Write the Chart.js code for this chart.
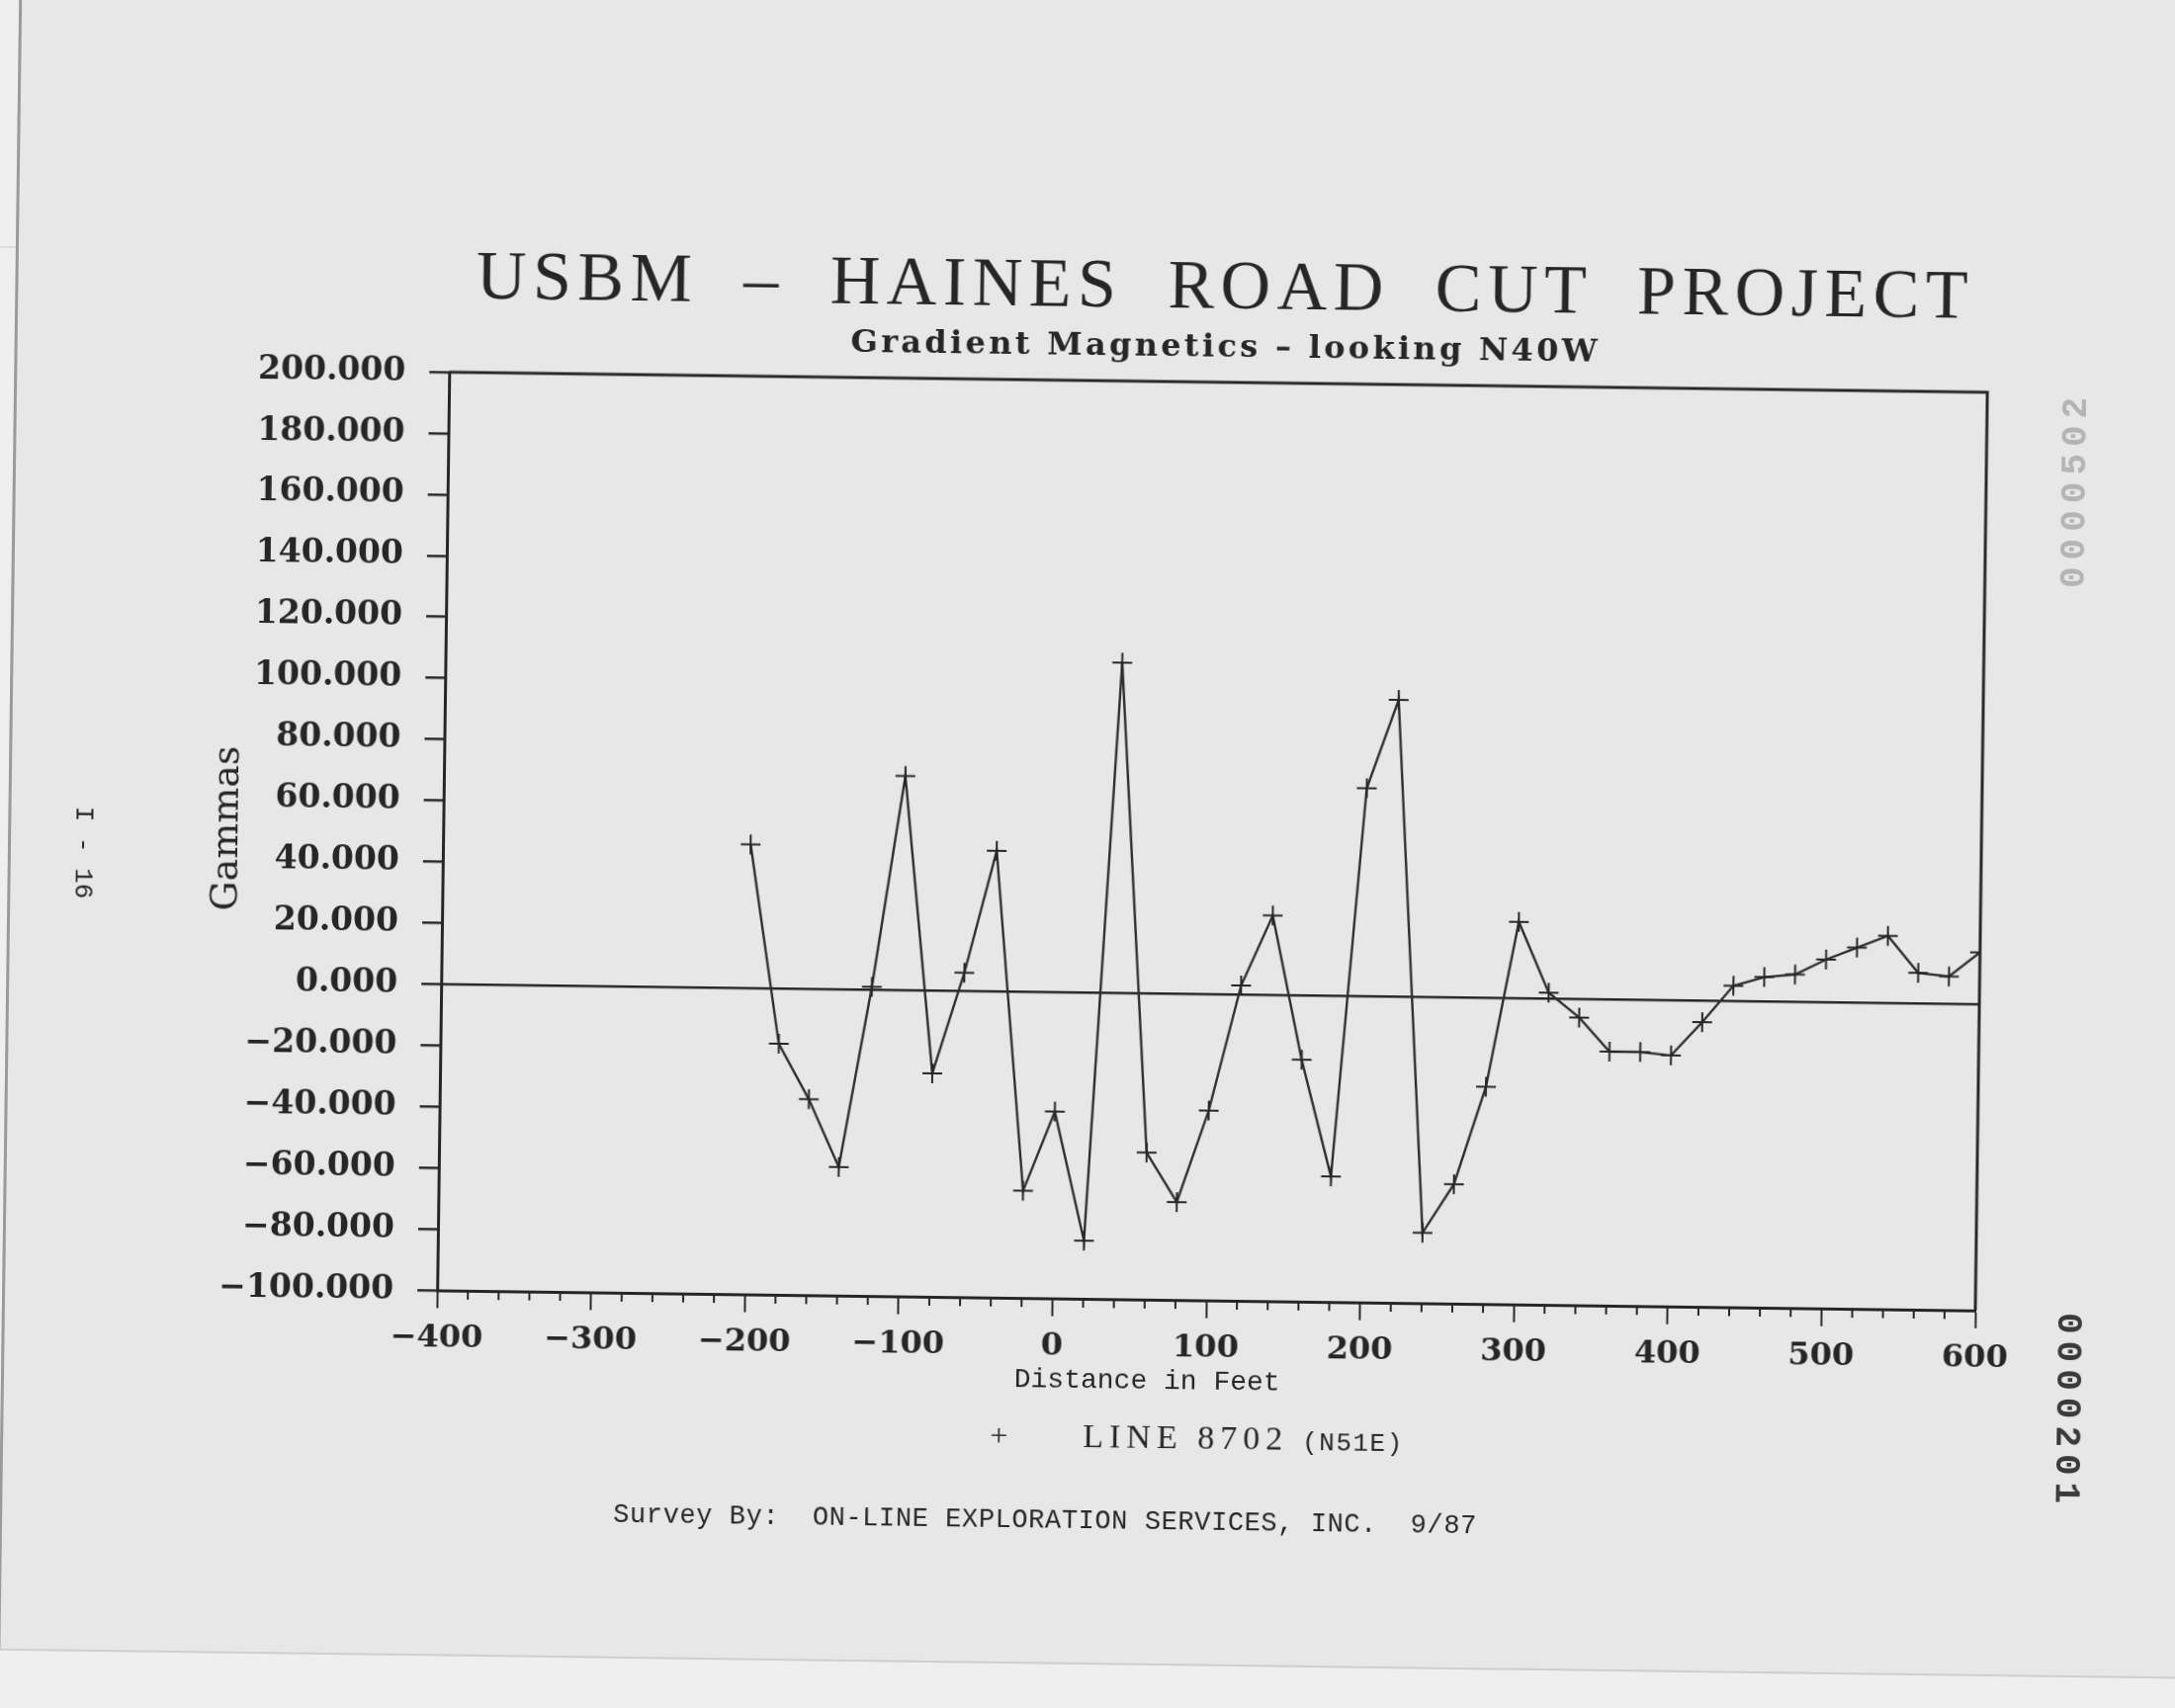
<!DOCTYPE html>
<html>
<head>
<meta charset="utf-8">
<title>USBM - Haines Road Cut Project</title>
<script src="https://cdn.jsdelivr.net/npm/chart.js@4.4.1/dist/chart.umd.min.js"></script>
<style>
  html, body { margin: 0; padding: 0; width: 2200px; height: 1728px; overflow: hidden; background: #efefef; }
  #scanline { position: absolute; left: 0; top: 249px; width: 2200px; height: 2px; background: #dcdcdc; }
  #page { position: absolute; left: 0; top: 0; width: 2200px; height: 1728px;
          transform: rotate(0.75deg); transform-origin: 1100px 864px; }
  #paper { position: absolute; left: 8px; top: -60px; width: 2300px; height: 1742px;
           background: #e7e7e7; border-left: 3px solid #9a9a9a; border-bottom: 2px solid #cfcfcf; }
  #chart { position: absolute; left: 0; top: 0; }
  .txt { position: absolute; color: #262626; white-space: pre; }
  #title { left: 232px; width: 2000px; top: 252px; text-align: center;
           font: 70px/70px "Liberation Serif", serif; letter-spacing: 6.5px; word-spacing: 22px; }
  #subtitle { left: 433px; width: 1600px; top: 332px; text-align: center;
              font: bold 32px/32px "DejaVu Serif", serif; letter-spacing: 3.3px; }
  #legend { left: 1009px; top: 1436px; font: 34px/34px "Liberation Serif", serif; }
  #legend .plus { display: inline-block; width: 18px; font-size: 32px; }
  #legend .name { margin-left: 76px; letter-spacing: 6px; }
  #legend .dir { margin-left: 14px; font: 26px "Liberation Mono", monospace; letter-spacing: 1.5px; }
  #footer { left: 629px; top: 1526px; font: 27px/27px "Liberation Mono", monospace; letter-spacing: 0.6px; }
  #pageno { left: 42px; top: 858px; font: 26px/26px "Liberation Mono", monospace;
            transform: rotate(90deg); transform-origin: 42px 13px; }
  #stamp1 { left: 1995px; top: 462px; width: 200px; text-align: center; color: #b4b4b4;
            font: bold 36px/40px "Liberation Mono", monospace; letter-spacing: 7px; transform: rotate(-90deg); }
  #stamp2 { left: 1997px; top: 1395px; width: 200px; text-align: center; color: #3a3a3a;
            font: bold 36px/40px "Liberation Mono", monospace; letter-spacing: 7px; transform: rotate(90deg); }
</style>
</head>
<body>
<div id="scanline"></div>
<div id="page">
  <div id="paper"></div>
  <canvas id="chart" width="2200" height="1728"></canvas>
  <div class="txt" id="title">USBM – HAINES ROAD CUT PROJECT</div>
  <div class="txt" id="subtitle">Gradient Magnetics – looking N40W</div>
  <div class="txt" id="legend"><span class="plus">+</span><span class="name">LINE 8702</span><span class="dir">(N51E)</span></div>
  <div class="txt" id="footer">Survey By:  ON-LINE EXPLORATION SERVICES, INC.  9/87</div>
  <div class="txt" id="pageno">I - 16</div>
  <div class="txt" id="stamp1">0000502</div>
  <div class="txt" id="stamp2">0000201</div>
</div>
<script>
// survey stations (feet) and gradient readings (gammas)
const stations = [-200, -180, -160, -140, -120, -100, -80, -60, -40, -20, 0, 20, 40, 60, 80, 100,
                  120, 140, 160, 180, 200, 220, 240, 260, 280, 300, 320, 340, 360, 380, 400, 420,
                  440, 460, 480, 500, 520, 540, 560, 580, 600];
const gammas = [47, -18, -36, -58, 1, 70, -27, 6, 46, -65, -39, -81, 108, -52, -68, -38,
                3, 26, -21, -59, 68, 97, -77, -61, -29, 25, 2, -6, -17, -17, -18, -7,
                5, 8, 9, 14, 18, 22, 10, 9, 17];
const xRange = [-400, 600];
const yRange = [-100, 200];
const seriesName = 'LINE 8702 (N51E)';

const ink = '#262626';
const minus = s => String(s).replace('-', '\u2212');

// top/right frame and short ticks every 20 ft
const framePlugin = {
  id: 'frame',
  afterDraw(chart) {
    const { ctx, chartArea: a, scales: { x } } = chart;
    ctx.save();
    ctx.strokeStyle = ink;
    ctx.lineWidth = 3;
    ctx.beginPath();
    ctx.moveTo(a.left, a.top);
    ctx.lineTo(a.right, a.top);
    ctx.lineTo(a.right, a.bottom);
    ctx.stroke();
    ctx.lineWidth = 2;
    ctx.beginPath();
    x.ticks.forEach(t => {
      if (t.value % 100 === 0) return;
      const px = x.getPixelForValue(t.value);
      ctx.moveTo(px, a.bottom);
      ctx.lineTo(px, a.bottom + 9);
    });
    ctx.stroke();
    ctx.restore();
  }
};

new Chart(document.getElementById('chart'), {
  type: 'line',
  data: {
    datasets: [{
      label: seriesName,
      data: stations.map((s, i) => ({ x: s, y: gammas[i] })),
      borderColor: '#2e2e2e',
      borderWidth: 2.4,
      pointStyle: 'cross',
      pointRadius: 10,
      pointBorderWidth: 2,
      pointBorderColor: '#262626',
      tension: 0,
      fill: false
    }]
  },
  options: {
    responsive: false,
    devicePixelRatio: 1,
    animation: false,
    layout: { padding: { left: 207, top: 385, right: 196, bottom: 315 } },
    plugins: { legend: { display: false }, tooltip: { enabled: false } },
    scales: {
      x: {
        type: 'linear',
        min: xRange[0], max: xRange[1],
        afterFit: s => { s.height = 99; },
        border: { display: true, color: ink, width: 3 },
        grid: { drawOnChartArea: false, drawTicks: true, tickLength: 18, tickWidth: 2,
                tickColor: c => (c.tick && c.tick.value % 100 === 0) ? ink : 'transparent' },
        ticks: {
          stepSize: 20, autoSkip: false, maxRotation: 0, padding: 11, color: ink,
          font: { family: 'DejaVu Serif', size: 32, weight: 'bold' },
          callback: v => (v % 100 === 0 ? minus(v) : '')
        },
        title: {
          display: true, text: 'Distance in Feet       ', color: ink, padding: 0,
          font: { family: 'Liberation Mono', size: 28 }
        }
      },
      y: {
        min: yRange[0], max: yRange[1],
        afterFit: s => { s.width = 241; },
        border: { display: true, color: ink, width: 3 },
        grid: { drawOnChartArea: true, drawTicks: true, tickLength: 20, tickWidth: 2.5, tickColor: ink,
                lineWidth: 2.5,
                color: c => (c.tick && c.tick.value === 0) ? ink : 'transparent' },
        ticks: {
          stepSize: 20, padding: 24, color: ink,
          font: { family: 'DejaVu Serif', size: 33, weight: 'bold' },
          callback: v => minus(Number(v).toFixed(3))
        },
        title: {
          display: true, text: 'Gammas', color: ink, padding: 0,
          font: { family: 'DejaVu Serif', size: 38 }
        }
      }
    }
  },
  plugins: [framePlugin]
});
</script>
</body>
</html>
